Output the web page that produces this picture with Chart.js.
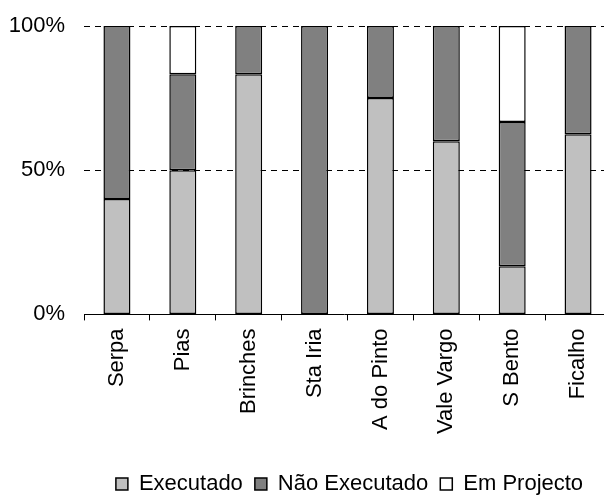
<!DOCTYPE html>
<html>
<head>
<meta charset="utf-8">
<script src="https://cdn.jsdelivr.net/npm/chart.js@4/dist/chart.umd.min.js"></script>
<style>
  html, body { margin: 0; padding: 0; background: #fff; }
  #wrap { width: 604px; height: 495px; }
</style>
</head>
<body>
<div id="wrap"><canvas id="chart" width="604" height="495"></canvas></div>
<script>
'use strict';

// ── Data (percent of each locality) ─────────────────────
var categories  = ['Serpa', 'Pias', 'Brinches', 'Sta Iria', 'A do Pinto', 'Vale Vargo', 'S Bento', 'Ficalho'];
var executado   = [40, 50, 83.3, 0, 75, 60, 16.7, 62.5];
var naoExec     = [60, 33.3, 16.7, 100, 25, 40, 50, 37.5];
var emProjecto  = [0, 16.7, 0, 0, 0, 0, 33.3, 0];
var yTicks      = [0, 50, 100];

var FONT = "'Liberation Sans', Arial, sans-serif";
var RIGHT_BLEED = 7;   // plot area runs slightly past the right edge

function series(label, data, color) {
  return {
    label: label,
    data: data,
    backgroundColor: color,
    borderColor: '#000',
    borderWidth: 1.5,
    borderSkipped: false,
    categoryPercentage: 1,
    barPercentage: 0.41
  };
}

// stretch the plot past the right edge, then centre the legend under it
var layoutTweak = {
  id: 'layoutTweak',
  afterLayout: function(chart) {
    var area = chart.chartArea, xs = chart.scales.x;
    area.right += RIGHT_BLEED; area.width += RIGHT_BLEED;
    xs.right += RIGHT_BLEED; xs.width += RIGHT_BLEED;
    xs.configure();

    var lg = chart.legend;
    if (!lg) return;
    var dx = (area.left + area.right) / 2 - (lg.left + lg.right) / 2 + 2;
    var dy = 19;
    lg.left += dx; lg.right += dx;
    lg.top += dy; lg.bottom += dy;
    if (lg.legendHitBoxes) lg.legendHitBoxes.forEach(function(b){ b.left += dx; b.top += dy; });
  }
};

new Chart(document.getElementById('chart'), {
  type: 'bar',
  data: {
    labels: categories,
    datasets: [
      series('Executado', executado, '#c0c0c0'),
      series('Não Executado', naoExec, '#808080'),
      series('Em Projecto', emProjecto, '#ffffff')
    ]
  },
  plugins: [layoutTweak],
  options: {
    responsive: false,
    animation: false,
    layout: { padding: { top: 26, right: 0, left: 9, bottom: 9 } },
    plugins: {
      tooltip: { enabled: false },
      legend: {
        position: 'bottom',
        labels: {
          color: '#000',
          font: { family: FONT, size: 22 },
          boxWidth: 12,
          boxHeight: 12,
          padding: 12
        }
      }
    },
    scales: {
      x: {
        stacked: true,
        offset: true,
        afterFit: function(scale) { scale.paddingLeft = 0; scale.paddingRight = 0; },
        grid: { offset: true, drawOnChartArea: false, color: '#000', tickLength: 6 },
        border: { display: true, color: '#000', width: 1 },
        ticks: {
          color: '#000',
          font: { family: FONT, size: 22 },
          minRotation: 90,
          maxRotation: 90,
          padding: 8
        }
      },
      y: {
        stacked: true,
        min: 0,
        max: 100,
        afterBuildTicks: function(axis) {
          axis.ticks = yTicks.map(function(v){ return { value: v }; });
        },
        afterFit: function(scale) {
          scale.width = 75;
          scale.paddingTop = 0;
          scale.paddingBottom = 0;
        },
        grid: {
          drawTicks: false,
          color: function(ctx) { return ctx.tick && ctx.tick.value === 0 ? 'rgba(0,0,0,0)' : '#000'; }
        },
        border: { display: false, dash: [6, 5] },
        ticks: {
          color: '#000',
          font: { family: FONT, size: 22 },
          padding: 19,
          callback: function(v) { return v + '%'; }
        }
      }
    }
  }
});
</script>
</body>
</html>
